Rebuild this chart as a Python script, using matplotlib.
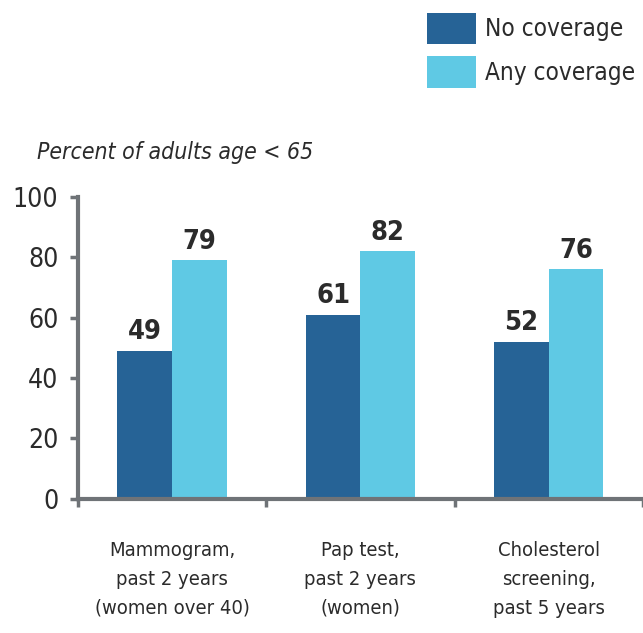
import numpy as np
import matplotlib
matplotlib.use("Agg")
import matplotlib.pyplot as plt
from matplotlib.patches import Patch

categories = ["Mammogram,\npast 2 years\n(women over 40)",
              "Pap test,\npast 2 years\n(women)",
              "Cholesterol\nscreening,\npast 5 years"]
no_coverage = [49, 61, 52]
any_coverage = [79, 82, 76]
series_names = ["No coverage", "Any coverage"]
yticks = [0, 20, 40, 60, 80, 100]

dark = "#266396"
light = "#5fc9e4"
axis_grey = "#6f7377"
text_col = "#2b2b2b"

plt.rcParams['font.family'] = ['DejaVu Sans']
plt.rcParams['font.stretch'] = 'condensed'

fig = plt.figure(figsize=(6.43, 6.33), dpi=100)
ax = fig.add_axes([0.121, 0.212, 0.879, 0.477])

x = np.arange(len(categories))
w = 0.29
b1 = ax.bar(x - w / 2, no_coverage, w, color=dark)
b2 = ax.bar(x + w / 2, any_coverage, w, color=light)

for bars, vals in ((b1, no_coverage), (b2, any_coverage)):
    for bar, v in zip(bars, vals):
        ax.annotate(str(v), (bar.get_x() + bar.get_width() / 2, v),
                    xytext=(0, 4), textcoords="offset points",
                    ha="center", va="bottom", fontsize=19.5,
                    fontweight="bold", color=text_col)

ax.set_xlim(-0.5, 2.47)
ax.set_ylim(0, 100)
ax.set_yticks(yticks)
ax.set_yticklabels([str(t) for t in yticks], fontsize=19, color=text_col)
ax.set_xticks([-0.5, 0.5, 1.5, 2.5])
ax.set_xticklabels([])
ax.tick_params(axis="y", direction="out", length=6, width=2.5, color=axis_grey, pad=8)
ax.tick_params(axis="x", direction="out", length=6, width=2.5, color=axis_grey)

for s in ("top", "right"):
    ax.spines[s].set_visible(False)
for s in ("left", "bottom"):
    ax.spines[s].set_color(axis_grey)
    ax.spines[s].set_linewidth(3)

for i, lab in enumerate(categories):
    ax.text(i, -14, lab, ha="center", va="top", fontsize=14.5,
            color=text_col, linespacing=1.65,
            transform=ax.transData)

fig.text(0.057, 0.759, "Percent of adults age < 65", fontsize=16.5,
         style="italic", color=text_col, va="center", ha="left")

handles = [Patch(facecolor=dark), Patch(facecolor=light)]
leg = fig.legend(handles, series_names, loc="upper left",
                 bbox_to_anchor=(0.649, 0.995), frameon=False,
                 fontsize=17.5, handlelength=2.0, handleheight=1.6,
                 handletextpad=0.37, labelspacing=0.5, borderaxespad=0)
for t in leg.get_texts():
    t.set_color(text_col)

fig.savefig("out.png", dpi=100)
